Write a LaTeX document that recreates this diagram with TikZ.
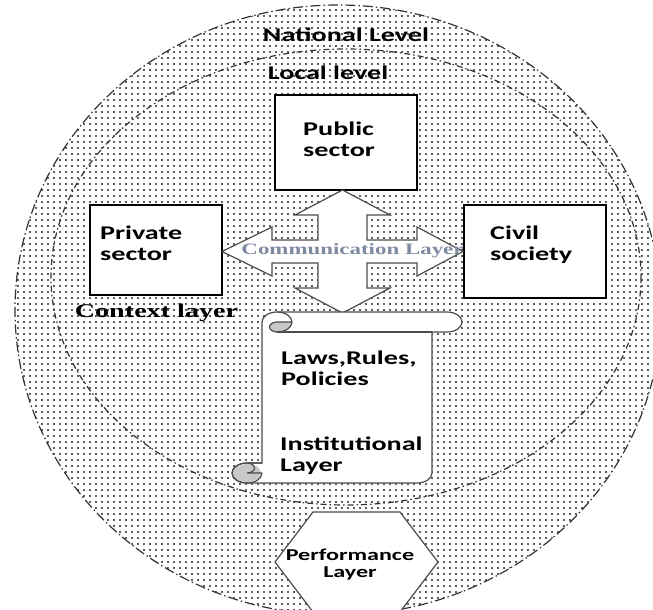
\documentclass[tikz,border=0pt]{standalone}
\usepackage{fontspec}
\usetikzlibrary{patterns.meta}
\newfontfamily\calfont{Carlito}[FakeStretch=1.45]
\newfontfamily\romfont{Liberation Serif}[FakeStretch=1.45]
\definecolor{commgray}{RGB}{125,138,160}
\definecolor{curlgray}{RGB}{200,200,200}

\begin{document}
\begin{tikzpicture}[x=1pt,y=-1pt,
    box/.style={draw,line width=1.6pt,fill=white,inner sep=0pt},
    txt/.style={font=\calfont\bfseries\fontsize{19.4}{21}\selectfont,align=left,inner sep=0pt,anchor=west},
    ring/.style={black!80,line width=1.2pt},
    edge/.style={black!70,line width=1.2pt}]
  \clip (0,0) rectangle (653,610);
  % dotted disc, national and local borders
  \fill[pattern={Dots[distance=6pt,radius=1.15pt]},pattern color=black!85] (338,310) ellipse [x radius=323,y radius=305];
  \draw[ring,dash pattern=on 10pt off 3pt on 1.5pt off 3pt] (338,310) ellipse [x radius=323,y radius=305];
  \draw[ring,dash pattern=on 6pt off 3pt on 1.5pt off 3pt] (346,277) ellipse [x radius=295,y radius=228];

  % the three sectors
  \node[box,minimum width=142pt,minimum height=95pt] (pub) at (346,142.5) {};
  \node[box,minimum width=132pt,minimum height=90pt] (priv) at (156,250) {};
  \node[box,minimum width=142pt,minimum height=93pt] (civ) at (535,251.5) {};

  % four-way arrow between them
  \draw[edge,fill=white,line join=miter]
    (342.5,190) -- (390,215) -- (367,215) -- (367,240) -- (417,240) -- (417,227)
    -- (463,251.5) -- (417,276) -- (417,263) -- (367,263) -- (367,288) -- (390,288)
    -- (342.5,313) -- (295,288) -- (318,288) -- (318,263) -- (272,263) -- (272,276)
    -- (222,251.5) -- (272,227) -- (272,240) -- (318,240) -- (318,215) -- (295,215) -- cycle;

  % scroll
  \draw[edge,fill=white] (262,463) -- (262,322)
    arc[start angle=180,delta angle=90,x radius=15,y radius=10] -- (447,312)
    arc[start angle=270,delta angle=180,x radius=15,y radius=10] -- (432,332) -- (432,473)
    arc[start angle=0,delta angle=90,x radius=15,y radius=10] -- (247,483)
    arc[start angle=90,delta angle=180,x radius=15,y radius=10] -- cycle;
  \fill[curlgray] (292,322) arc[start angle=0,delta angle=90,x radius=15,y radius=10]
    arc[start angle=90,delta angle=180,x radius=7.5,y radius=5] -- cycle;
  \fill[curlgray] (247,473) ellipse [x radius=14,y radius=9];
  \draw[edge] (277,312) arc[start angle=270,delta angle=180,x radius=15,y radius=10]
    arc[start angle=90,delta angle=180,x radius=7.5,y radius=5] -- (292,322);
  \draw[edge] (277,332) -- (432,332);
  \draw[edge] (247,463) arc[start angle=270,delta angle=180,x radius=7.5,y radius=5] -- (262,473);
  \draw[edge] (247,483) arc[start angle=90,delta angle=-90,x radius=15,y radius=10];
  \draw[edge] (247,483) arc[start angle=90,delta angle=180,x radius=15,y radius=10] -- (262,463);

  % performance hexagon
  \draw[edge,fill=white] (313,512) -- (400,512) -- (438,562) -- (400,612) -- (313,612) -- (275,562) -- cycle;

  % labels
  \node[txt] (pubtxt) at (303,139) {Public\\sector};
  \node[txt] (privtxt) at (100,243) {Private\\sector};
  \node[txt] (civtxt) at (490,244.5) {Civil\\society};
  \node[txt] (laws) at (281,368) {Laws,Rules,\\Policies};
  \node[txt] (inst) at (280,455.5) {Institutional\\Layer};
  \node[txt,anchor=center,align=center,font=\calfont\bfseries\fontsize{16.6}{17}\selectfont] (perf) at (350,565) {Performance\\Layer};
  \node[txt,anchor=center] (nat) at (346,35) {National Level};
  \node[txt,anchor=center] (loc) at (328,73) {Local level};
  \node[inner sep=0pt,font=\romfont\bfseries\fontsize{19.4}{21}\selectfont] (ctx) at (156.5,313) {Context layer};
  \node[inner sep=0pt,text=commgray,font=\romfont\bfseries\fontsize{15.8}{17}\selectfont] (comm) at (352.5,251) {Communication Layer};
\end{tikzpicture}
\end{document}
